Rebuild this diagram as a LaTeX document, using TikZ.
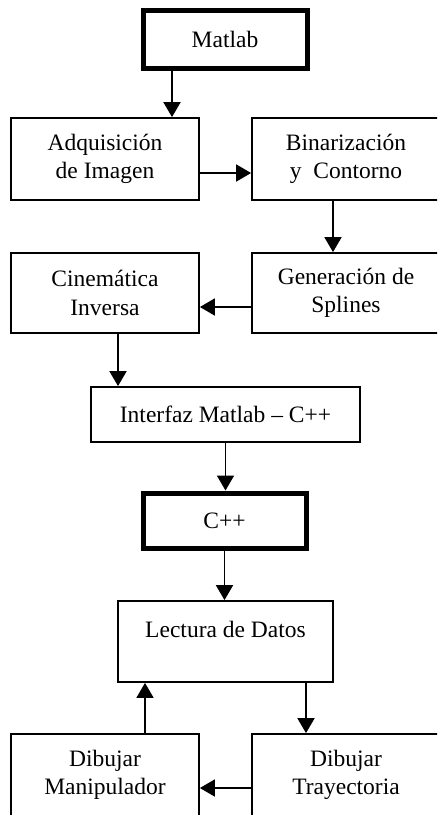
\documentclass[tikz,border=0pt]{standalone}
\usepackage{fontspec}
\setmainfont{Liberation Serif}
\usetikzlibrary{arrows.meta}
\begin{document}
\begin{tikzpicture}[x=1pt,y=-1pt,
  box/.style={draw=black,line width=1.8pt,rectangle,inner sep=0pt,align=center,
    font=\fontsize{23.5}{28.5}\selectfont},
  thickbox/.style={box,line width=5pt},
  arr/.style={line width=1.8pt,-{Triangle[width=17pt,length=15pt]}}]
\useasboundingbox (0,0) rectangle (437,815);
\clip (0,0) rectangle (437,815);
\node[thickbox,minimum width=164pt,minimum height=58pt] (matlab) at (225,39) {Matlab};
\node[box,minimum width=188pt,minimum height=82pt] (adq) at (105,159) {Adquisición\\de Imagen};
\node[box,minimum width=188pt,minimum height=82pt] (bin) at (346,159) {Binarización\\y~ Contorno};
\node[box,minimum width=188pt,minimum height=80pt] (gen) at (346,293) {Generación de\\Splines};
\node[box,minimum width=188pt,minimum height=80pt] (cin) at (105,293) {Cinemática\\Inversa};
\node[box,minimum width=269pt,minimum height=55pt] (inter) at (225.5,414.5) {Interfaz Matlab – C++};
\node[thickbox,minimum width=163pt,minimum height=55pt] (cpp) at (224.5,520.5) {C++};
\node[box,minimum width=215pt,minimum height=81pt] (lect) at (225.5,641.5) {};
\node[font=\fontsize{23.5}{28.5}\selectfont,inner sep=0pt] (lecttxt) at (225.5,629) {Lectura de Datos};
\node[box,minimum width=188pt,minimum height=82pt] (tray) at (346,775) {Dibujar\\Trayectoria};
\node[box,minimum width=188pt,minimum height=82pt] (manip) at (105,775) {Dibujar\\Manipulador};
\draw[arr] ([xshift=-53pt]matlab.south) -- ([xshift=-53pt]matlab.south |- adq.north);
\draw[arr] ([yshift=-14pt]adq.east) -- ([yshift=-14pt]adq.east -| bin.west);
\draw[arr] ([xshift=-13pt]bin.south) -- ([xshift=-13pt]bin.south |- gen.north);
\draw[arr] ([yshift=-14pt]gen.west) -- ([yshift=-14pt]gen.west -| cin.east);
\draw[arr] ([xshift=13pt]cin.south) -- ([xshift=13pt]cin.south |- inter.north);
\draw[arr] (inter.south) -- (inter.south |- cpp.north);
\draw[arr] (cpp.south) -- (cpp.south |- lect.north);
\draw[arr] ([xshift=80.5pt]lect.south) -- ([xshift=80.5pt]lect.south |- tray.north);
\draw[arr] ([yshift=-13pt]tray.west) -- ([yshift=-13pt]tray.west -| manip.east);
\draw[arr] ([xshift=40pt]manip.north) -- ([xshift=40pt]manip.north |- lect.south);
\end{tikzpicture}
\end{document}
